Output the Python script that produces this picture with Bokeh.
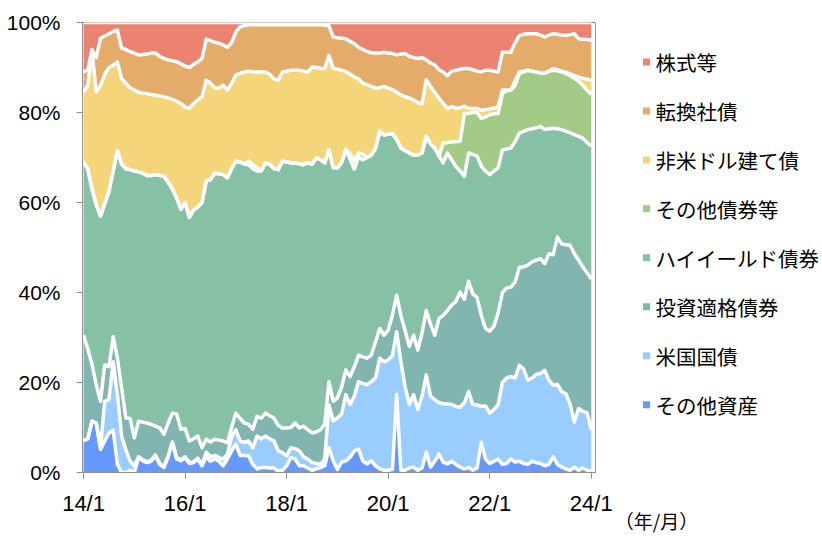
from bokeh.plotting import figure
from bokeh.layouts import row
from bokeh.models import ColumnDataSource, Range1d, FixedTicker
from bokeh.core.properties import value
from bokeh.embed import file_html
from bokeh.resources import INLINE

FONT_JP = "Noto Sans CJK JP"
FONT_NUM = "Liberation Sans"

# month index: 0 = 2014/1 ... 120 = 2024/1
months = list(range(121))
x_tick_months = [0, 24, 48, 72, 96, 120]
x_tick_labels = ["14/1", "16/1", "18/1", "20/1", "22/1", "24/1"]
y_ticks = [0, 20, 40, 60, 80, 100]
y_tick_labels = ["0%", "20%", "40%", "60%", "80%", "100%"]
unit_label = "（年/月）"

series = ["その他資産", "米国国債", "投資適格債券", "ハイイールド債券",
          "その他債券等", "非米ドル建て債", "転換社債", "株式等"]
colors = ["#6699FF", "#99CCFF", "#81B5B0", "#87C1A5",
          "#A3CB88", "#F5D57A", "#E5AB68", "#EC8370"]

# cumulative upper edge (%) of each band
top_other_assets = [
    7.1, 7.5, 11.4, 11.0, 5.1, 7.0, 8.8, 9.4, 1.8, 0.0,
    0.0, 0.5, 0.0, 3.3, 2.6, 2.2, 2.5, 3.7, 1.8, 1.1,
    3.5, 6.6, 3.0, 2.6, 3.3, 2.0, 2.2, 3.0, 1.5, 3.5,
    2.5, 3.0, 2.5, 1.5, 3.0, 4.8, 6.3, 3.8, 3.8, 3.7,
    1.8, 0.8, 1.1, 1.1, 1.0, 1.0, 0.3, 0.5, 1.5, 3.3,
    3.0, 1.5, 1.5, 1.0, 0.5, 0.8, 1.1, 1.5, 5.5, 2.6,
    0.7, 2.3, 2.6, 3.4, 4.8, 5.2, 2.6, 1.9, 2.6, 1.5,
    0.8, 0.5, 0.5, 0.7, 17.4, 0.5, 0.5, 1.0, 1.2, 0.5,
    1.0, 4.5, 1.2, 2.5, 4.1, 2.3, 1.9, 2.5, 1.8, 1.2,
    0.8, 1.1, 0.5, 1.0, 6.7, 3.0, 2.0, 2.5, 3.0, 1.8,
    2.0, 3.0, 2.3, 2.5, 2.0, 1.8, 2.5, 2.2, 2.0, 1.5,
    1.8, 3.5, 1.8, 1.2, 0.8, 0.5, 1.2, 0.5, 1.0, 0.5,
    0.3]
top_us_treasury = [
    7.1, 7.5, 11.4, 11.0, 5.5, 15.8, 16.2, 24.6, 17.3, 8.0,
    5.0, 2.6, 1.5, 3.5, 2.8, 2.4, 2.7, 3.9, 2.0, 1.3,
    3.7, 6.8, 3.3, 2.8, 3.5, 2.2, 2.4, 3.2, 1.7, 4.5,
    3.5, 3.8, 3.3, 3.0, 4.0, 8.0, 9.5, 7.0, 6.7, 7.0,
    5.5, 8.1, 7.5, 8.1, 7.5, 7.0, 4.8, 4.4, 3.7, 5.5,
    5.3, 4.8, 3.5, 3.0, 2.2, 2.0, 1.8, 3.0, 15.0, 11.5,
    12.1, 13.0, 17.3, 15.1, 17.0, 20.2, 19.8, 19.5, 20.2, 21.0,
    25.4, 24.6, 25.0, 26.0, 31.3, 24.6, 19.0, 15.1, 17.3, 14.0,
    17.0, 21.7, 17.0, 16.2, 15.5, 15.3, 15.2, 15.1, 14.7, 14.5,
    15.5, 18.0, 15.1, 15.0, 14.7, 14.8, 13.2, 14.0, 15.1, 20.0,
    21.0, 21.3, 21.0, 23.8, 23.0, 20.5, 21.0, 21.8, 22.0, 22.7,
    20.5, 19.4, 19.6, 18.0, 17.5, 15.2, 11.2, 14.2, 13.6, 13.3,
    9.4]
top_investment_grade = [
    30.5, 27.5, 24.0, 19.5, 15.8, 23.9, 23.5, 30.2, 25.4, 18.8,
    12.1, 12.0, 7.7, 11.4, 11.2, 11.0, 10.7, 10.3, 9.9, 8.5,
    11.0, 13.2, 13.0, 9.6, 9.8, 7.0, 7.5, 8.1, 5.5, 7.4,
    6.8, 7.4, 7.2, 7.0, 6.6, 10.0, 13.2, 12.0, 11.0, 10.7,
    9.6, 12.5, 12.1, 13.2, 12.6, 12.1, 10.5, 9.9, 9.9, 10.0,
    11.0, 9.9, 10.3, 9.5, 8.8, 9.0, 9.5, 10.7, 20.2, 15.8,
    16.6, 19.0, 22.8, 21.3, 23.5, 26.1, 25.7, 25.4, 26.1, 29.0,
    32.0, 30.5, 31.6, 35.0, 39.4, 34.9, 31.5, 28.0, 30.5, 27.2,
    31.0, 36.0, 33.0, 30.5, 34.2, 34.9, 36.0, 37.2, 38.0, 40.1,
    38.5, 42.5, 39.7, 38.9, 35.0, 32.0, 31.4, 32.5, 35.5, 40.0,
    41.0, 41.2, 42.3, 45.6, 45.7, 46.1, 46.8, 47.2, 47.5, 46.4,
    48.6, 48.4, 52.3, 50.8, 50.6, 50.5, 48.6, 47.2, 45.7, 44.4,
    43.0]
top_high_yield = [
    69.0, 67.5, 63.0, 59.5, 57.0, 59.7, 62.5, 67.0, 71.5, 68.5,
    67.5, 67.3, 67.0, 66.8, 66.5, 66.0, 66.0, 66.2, 66.0, 65.8,
    64.5, 63.0, 61.0, 58.5, 60.0, 56.7, 58.3, 59.0, 60.0, 64.8,
    65.1, 66.5, 66.4, 66.2, 65.5, 67.5, 69.2, 69.0, 68.5, 68.4,
    67.5, 67.0, 67.0, 68.8, 68.5, 67.5, 67.3, 69.2, 69.0, 68.8,
    68.8, 68.6, 68.4, 68.8, 68.5, 69.9, 69.5, 68.8, 71.7, 67.7,
    67.7, 68.9, 71.8, 69.6, 67.4, 70.2, 69.5, 70.0, 70.5, 72.0,
    75.8, 75.0, 75.2, 75.3, 74.0, 72.1, 71.5, 71.0, 70.5, 70.5,
    71.0, 74.7, 73.0, 72.1, 70.3, 68.8, 71.0, 69.5, 68.0, 67.0,
    65.8, 71.0, 70.7, 70.3, 68.1, 67.0, 66.2, 67.0, 67.7, 71.7,
    71.9, 72.1, 73.5, 75.4, 75.8, 76.2, 76.4, 76.6, 76.9, 76.2,
    76.4, 76.5, 76.4, 76.2, 75.8, 75.5, 75.1, 74.7, 74.3, 73.4,
    72.5]
top_other_bonds = [
    69.0, 67.5, 63.0, 59.5, 57.0, 59.7, 62.5, 67.0, 71.5, 68.5,
    67.5, 67.3, 67.0, 66.8, 66.5, 66.0, 66.0, 66.2, 66.0, 65.8,
    64.5, 63.0, 61.0, 58.5, 60.0, 56.7, 58.3, 59.0, 60.0, 64.8,
    65.1, 66.5, 66.4, 66.2, 65.5, 67.5, 69.2, 69.0, 68.5, 69.2,
    68.4, 67.8, 67.0, 68.8, 68.5, 67.5, 67.3, 69.2, 69.0, 68.8,
    68.8, 68.6, 68.4, 68.8, 68.5, 69.9, 69.5, 68.8, 71.7, 67.7,
    67.7, 68.9, 71.8, 70.8, 69.3, 71.0, 70.8, 70.0, 70.5, 72.0,
    75.8, 75.0, 75.2, 75.3, 74.0, 72.1, 71.5, 71.0, 70.5, 70.5,
    71.0, 74.7, 73.0, 72.1, 70.3, 73.2, 73.3, 73.5, 73.5, 73.6,
    79.8, 79.8, 80.0, 80.0, 78.7, 79.0, 79.5, 79.7, 79.8, 84.3,
    84.8, 85.0, 86.0, 88.7, 89.0, 89.4, 89.2, 89.0, 88.8, 88.7,
    89.2, 89.4, 89.3, 89.0, 88.7, 88.2, 87.6, 87.0, 86.0, 85.0,
    84.0]
top_non_usd = [
    84.5, 86.0, 93.5, 84.6, 86.0, 88.5, 90.0, 90.5, 91.2, 87.5,
    86.5, 85.5, 85.0, 84.5, 84.3, 84.2, 84.0, 83.9, 83.7, 83.5,
    83.2, 82.9, 82.5, 82.0, 81.2, 80.9, 82.0, 82.8, 83.5, 87.2,
    86.5, 85.5, 85.4, 86.1, 85.0, 86.5, 88.3, 88.7, 89.0, 89.2,
    89.0, 89.0, 89.0, 89.0, 88.5, 87.5, 87.2, 89.0, 89.2, 89.4,
    89.4, 89.4, 89.2, 89.0, 90.1, 90.0, 89.8, 89.8, 92.7, 89.8,
    89.6, 89.4, 89.1, 88.5, 87.9, 87.5, 86.5, 86.2, 85.8, 85.4,
    85.5, 85.8, 85.4, 85.1, 84.5, 83.9, 83.5, 83.2, 82.8, 82.2,
    82.0, 87.3, 85.8, 84.5, 83.2, 82.0, 80.9, 81.3, 81.0, 81.0,
    81.4, 80.9, 80.9, 80.9, 80.5, 80.6, 80.8, 81.0, 81.3, 85.0,
    85.0, 85.0, 87.0, 89.0, 89.2, 89.4, 89.2, 89.0, 88.8, 88.7,
    89.2, 89.8, 89.5, 89.2, 89.0, 88.6, 88.2, 87.9, 87.6, 87.4,
    87.2]
top_convertible = [
    89.0, 89.5, 94.0, 92.2, 96.5, 97.0, 97.5, 98.0, 98.3, 94.3,
    94.0, 93.5, 93.2, 92.8, 92.9, 93.0, 93.2, 93.2, 92.5, 92.0,
    91.7, 91.5, 91.3, 90.8, 90.3, 90.0, 90.7, 91.3, 92.0, 96.3,
    96.0, 95.6, 95.4, 95.0, 94.5, 95.5, 97.9, 99.0, 99.3, 99.5,
    99.5, 99.5, 99.5, 99.5, 99.5, 99.5, 99.5, 99.5, 99.5, 99.5,
    99.5, 99.5, 99.5, 99.5, 99.5, 99.5, 99.5, 99.4, 99.3, 96.8,
    96.6, 96.5, 96.4, 95.8, 95.3, 94.5, 94.0, 93.6, 93.3, 93.2,
    93.2, 93.4, 93.2, 93.1, 92.8, 93.0, 93.1, 92.5, 92.2, 92.0,
    92.2, 91.7, 91.0, 90.6, 89.5, 89.0, 88.2, 89.2, 89.4, 89.6,
    89.8, 89.8, 89.5, 89.2, 89.0, 89.4, 89.4, 89.2, 89.0, 93.4,
    93.4, 93.4, 95.5, 97.1, 97.4, 97.5, 97.5, 97.5, 97.2, 96.8,
    97.2, 97.5, 97.4, 97.2, 97.1, 97.3, 97.5, 96.4, 96.3, 96.2,
    96.1]
top_equity = [100.0] * len(months)

tops = [top_other_assets, top_us_treasury, top_investment_grade, top_high_yield,
        top_other_bonds, top_non_usd, top_convertible, top_equity]

data = {"m": months, "b0": [0.0] * len(months)}
prev = data["b0"]
for i, t in enumerate(tops):
    cur = [max(a, b) for a, b in zip(t, prev)]
    data["b%d" % (i + 1)] = cur
    prev = cur
src = ColumnDataSource(data)

# ---------------- main chart ----------------
W_TOTAL, H = 822, 536
W_MAIN = 614
TOP, BOTTOM = 22, 61
p = figure(width=W_MAIN, height=H, output_backend="svg", toolbar_location=None,
           x_range=Range1d(-0.25, 121.0), y_range=Range1d(0, 100),
           min_border_left=82, min_border_right=19, min_border_top=TOP,
           min_border_bottom=BOTTOM)
p.background_fill_color = "white"
p.border_fill_color = "white"
p.grid.visible = False
p.outline_line_color = "#8f8f8f"
p.outline_line_width = 1

for i, (name, col) in enumerate(zip(series, colors)):
    p.varea(x="m", y1="b%d" % i, y2="b%d" % (i + 1), source=src,
            fill_color=col, fill_alpha=1.0)
for i in range(1, 9):
    p.line(x="m", y="b%d" % i, source=src, line_color="white",
           line_width=3.5, line_join="round")

for ax in (p.xaxis[0], p.yaxis[0]):
    ax.axis_line_color = "#8f8f8f"
    ax.major_tick_line_color = "#8f8f8f"
    ax.major_tick_out = 6
    ax.major_tick_in = 0
    ax.minor_tick_line_color = None
    ax.major_label_text_font = FONT_NUM
    ax.major_label_text_color = "black"

p.xaxis.ticker = FixedTicker(ticks=x_tick_months, minor_ticks=[])
p.xaxis.major_label_overrides = dict(zip(x_tick_months, x_tick_labels))
p.xaxis.major_label_standoff = 12
p.xaxis.major_label_text_font_size = "22px"
p.yaxis.ticker = FixedTicker(ticks=y_ticks, minor_ticks=[])
p.yaxis.major_label_overrides = dict(zip(y_ticks, y_tick_labels))
p.yaxis.major_label_standoff = 16
p.yaxis.major_label_text_font_size = "21px"

# ---------------- legend panel (pixel coordinates of the page) ----------------
W_LEG = W_TOTAL - W_MAIN
q = figure(width=W_LEG, height=H, output_backend="svg", toolbar_location=None,
           x_range=Range1d(0, W_LEG), y_range=Range1d(H - BOTTOM, TOP),
           x_axis_location="below", y_axis_location=None,
           min_border_left=0, min_border_right=0, min_border_top=TOP,
           min_border_bottom=BOTTOM)
q.outline_line_color = None
q.background_fill_color = "white"
q.border_fill_color = "white"
q.grid.visible = False

leg_names = list(reversed(series))
leg_colors = list(reversed(colors))
leg_y = [61.7 + 49.3 * k for k in range(len(leg_names))]
leg_src = ColumnDataSource(dict(
    sx=[32] * len(leg_names), tx=[41] * len(leg_names), y=leg_y,
    name=leg_names, color=leg_colors))
q.scatter(x="sx", y="y", source=leg_src, marker="square", size=7,
          fill_color="color", line_color=None)
q.text(x="tx", y="y", text="name", source=leg_src,
       text_font=value(FONT_JP), text_font_size=value("20.5px"),
       text_baseline="middle", text_align="left", text_color="black")

# unit note under the time axis
unit_tick = 42
qx = q.xaxis[0]
qx.ticker = FixedTicker(ticks=[unit_tick], minor_ticks=[])
qx.major_label_overrides = {unit_tick: unit_label}
qx.axis_line_color = None
qx.major_tick_line_color = None
qx.minor_tick_line_color = None
qx.major_tick_out = 0
qx.major_tick_in = 0
qx.major_label_standoff = 34
qx.major_label_text_font = FONT_JP
qx.major_label_text_font_size = "19px"
qx.major_label_text_color = "black"

layout = row(p, q, spacing=0)
open("out.html", "w").write(file_html(layout, INLINE))
